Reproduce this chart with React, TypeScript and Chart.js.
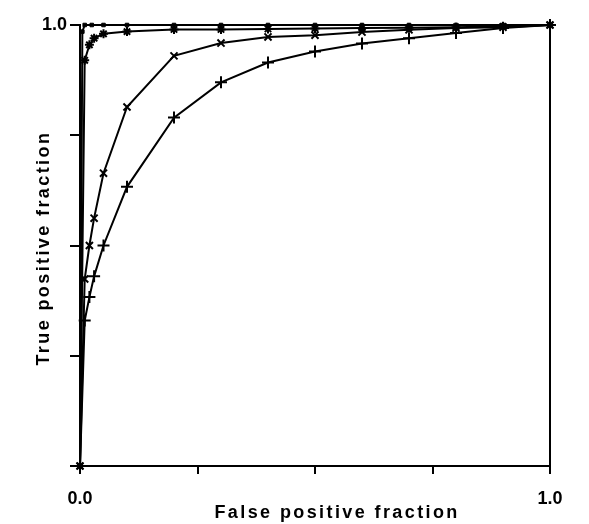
import React, { useEffect, useRef } from "react";
import { Chart, registerables } from "chart.js";

Chart.register(...registerables);

// ---- data ----
const xTickValues = [0, 0.25, 0.5, 0.75, 1];
const xTickLabels = ["0.0", "", "", "", "1.0"];
const yTickValues = [0, 0.25, 0.5, 0.75, 1];
const yTickLabels = ["", "", "", "", "1.0"];

const xTitle = "False positive fraction";
const yTitle = "True positive fraction";

// curve with "+" markers
const fprPlus = [0, 0.01, 0.02, 0.03, 0.05, 0.1, 0.2, 0.3, 0.4, 0.5, 0.6, 0.7, 0.8, 0.9, 1];
const tprPlus = [0, 0.33, 0.383, 0.43, 0.5, 0.633, 0.79, 0.87, 0.915, 0.94, 0.958, 0.97, 0.982, 0.993, 1];

// curve with "x" markers
const fprCross = [0, 0.01, 0.02, 0.03, 0.05, 0.1, 0.2, 0.3, 0.4, 0.5, 0.6, 0.7, 0.8, 0.9, 1];
const tprCross = [0, 0.424, 0.5, 0.562, 0.664, 0.814, 0.93, 0.959, 0.973, 0.977, 0.984, 0.989, 0.993, 0.995, 1];

// curve with "*" markers
const fprStar = [0, 0.01, 0.02, 0.03, 0.05, 0.1, 0.2, 0.3, 0.4, 0.5, 0.6, 0.7, 0.8, 0.9, 1];
const tprStar = [0, 0.92, 0.955, 0.97, 0.98, 0.985, 0.99, 0.99, 0.991, 0.992, 0.993, 0.994, 0.995, 0.997, 1];

// curve with small filled square markers
const fprSquare = [0, 0.005, 0.01, 0.025, 0.05, 0.1, 0.2, 0.3, 0.4, 0.5, 0.6, 0.7, 0.8, 0.9, 1];
const tprSquare = [0, 0.985, 1, 1, 1, 1, 1, 1, 1, 1, 1, 1, 1, 1, 1];

const FONT = '"Liberation Sans", Arial, Helvetica, sans-serif';

const toPts = (xs: number[], ys: number[]) => xs.map((x, i) => ({ x, y: ys[i] }));

const titlePlugin = {
  id: "axisTitles",
  afterDraw(chart: any) {
    const { ctx, chartArea: a } = chart;
    ctx.save();
    ctx.font = `bold 18px ${FONT}`;
    ctx.fillStyle = "#000";
    (ctx as any).letterSpacing = "2.4px";
    ctx.textAlign = "center";
    ctx.textBaseline = "middle";
    ctx.fillText(xTitle, a.left + (a.right - a.left) * 0.547, a.bottom + 47);
    ctx.translate(44, a.top + (a.bottom - a.top) * 0.506);
    ctx.rotate(-Math.PI / 2);
    ctx.fillText(yTitle, 0, 0);
    ctx.restore();
  },
};

export default function App() {
  const ref = useRef<HTMLCanvasElement | null>(null);

  useEffect(() => {
    if (!ref.current) return;
    const line = {
      borderColor: "#000",
      backgroundColor: "#000",
      borderWidth: 2,
      pointBorderColor: "#000",
      pointBorderWidth: 2,
      tension: 0,
      clip: false as any,
    };
    const chart = new Chart(ref.current, {
      type: "line",
      data: {
        datasets: [
          { ...line, label: "+", data: toPts(fprPlus, tprPlus), pointStyle: "cross", pointRadius: 6 },
          { ...line, label: "x", data: toPts(fprCross, tprCross), pointStyle: "crossRot", pointRadius: 5 },
          { ...line, label: "*", data: toPts(fprStar, tprStar), pointStyle: "star", pointRadius: 4.5 },
          { ...line, label: "square", data: toPts(fprSquare, tprSquare), pointStyle: "rect", pointRadius: 2.5, pointBorderWidth: 1 },
        ],
      },
      options: {
        responsive: false,
        animation: false,
        layout: { padding: { top: 25, right: 39, left: 0, bottom: 0 } },
        plugins: { legend: { display: false }, tooltip: { enabled: false } },
        scales: {
          x: {
            type: "linear",
            position: "bottom",
            min: 0,
            max: 1,
            afterBuildTicks: (s: any) => {
              s.ticks = xTickValues.map((v) => ({ value: v }));
            },
            afterFit: (s: any) => {
              s.height = 58;
            },
            grid: { drawOnChartArea: false, drawTicks: true, tickLength: 8, color: "#000", lineWidth: 2 },
            border: { display: true, color: "#000", width: 2 },
            ticks: {
              color: "#000",
              padding: 14,
              maxRotation: 0,
              autoSkip: false,
              font: { family: FONT, size: 18, weight: "bold" },
              callback: (_v: any, i: number) => xTickLabels[i],
            },
          },
          y: {
            type: "linear",
            position: "left",
            min: 0,
            max: 1,
            afterBuildTicks: (s: any) => {
              s.ticks = yTickValues.map((v) => ({ value: v }));
            },
            afterFit: (s: any) => {
              s.width = 80;
            },
            grid: { drawOnChartArea: false, drawTicks: true, tickLength: 10, color: "#000", lineWidth: 2 },
            border: { display: true, color: "#000", width: 2 },
            ticks: {
              color: "#000",
              padding: 3,
              autoSkip: false,
              font: { family: FONT, size: 18, weight: "bold" },
              callback: (_v: any, i: number) => yTickLabels[i],
            },
          },
          yRight: {
            type: "linear",
            position: "right",
            min: 0,
            max: 1,
            afterFit: (s: any) => {
              s.width = 0;
            },
            grid: { display: false, drawOnChartArea: false, drawTicks: false },
            border: { display: true, color: "#000", width: 2 },
            ticks: { display: false },
          },
        },
      } as any,
      plugins: [titlePlugin],
    });
    return () => chart.destroy();
  }, []);

  return (
    <div style={{ position: "absolute", left: 0, top: 0, width: 589, height: 524, background: "#fff" }}>
      <canvas ref={ref} width={589} height={524} style={{ display: "block" }} />
    </div>
  );
}
